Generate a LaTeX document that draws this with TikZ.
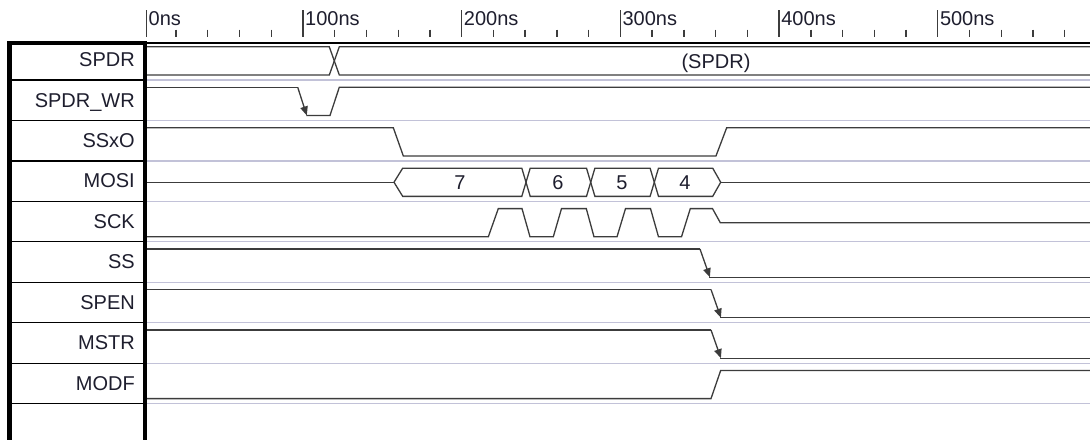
\documentclass[tikz,border=0pt]{standalone}
\usepackage{fontspec}
\setmainfont{Liberation Sans}
\usetikzlibrary{arrows.meta}
\definecolor{wavec}{HTML}{3C3C3C}
\definecolor{sepc}{HTML}{C2C2D8}
\definecolor{txtc}{HTML}{1E1E2E}
\begin{document}
\begin{tikzpicture}[x=1pt,y=-1pt,
  wave/.style={draw=wavec,line width=1.3pt,line join=miter},
  edgearrow/.style={draw=wavec,line width=1.3pt,-{Triangle[length=9pt,width=7.5pt]}},
  sepline/.style={draw=sepc,line width=1.2pt},
  rowline/.style={draw=black,line width=1.2pt},
  frameline/.style={draw=black,line width=4.5pt},
  majortick/.style={draw=wavec,line width=1.3pt},
  minortick/.style={draw=wavec,line width=1.4pt},
  lbl/.style={font=\fontsize{20}{23}\selectfont,text=txtc,inner sep=0pt},
  sig/.style={lbl,anchor=base east},
  tlab/.style={lbl,anchor=base west},
  blab/.style={lbl,anchor=base}]
\useasboundingbox (0,0) rectangle (1090,440);
\fill[white] (0,0) rectangle (1090,440);
% ---- time axis
\foreach \x/\t [count=\i] in {146.5/0ns,303/100ns,461.7/200ns,620.4/300ns,779.1/400ns,937.8/500ns}{
  \draw[majortick] (\x,10) -- (\x,37);
  \node[tlab] (tl\i) at (\x+2,25) {\t};
}
\foreach \k in {0,...,5}{
  \foreach \j in {1,...,4}{
    \draw[minortick] ({144.3+158.7*\k+31.74*\j},29.5) -- ({144.3+158.7*\k+31.74*\j},37);
  }
}
% ---- frame
\draw[black,line width=2.4pt] (147,43) -- (1090,43);
\draw[frameline] (7,43) -- (147,43);
\draw[frameline] (9.5,41) -- (9.5,440);
\draw[frameline] (145,41) -- (145,440);
\foreach \k in {1,...,9}{
  \draw[rowline] (11.5,{80+40.45*(\k-1)}) -- (143,{80+40.45*(\k-1)});
  \draw[sepline] (147.3,{80+40.45*(\k-1)}) -- (1090,{80+40.45*(\k-1)});
}
% ---- signal names
\foreach \n [count=\i from 0] in {SPDR,SPDR\_WR,SSxO,MOSI,SCK,SS,SPEN,MSTR,MODF}{
  \node[sig] (n\i) at (135,{59.8+40.45*\i+6.8}) {\n};
}
% ---- SPDR (row 0)
\def\Hi{46.8}\def\Lo{75}\def\Mi{60.9}
\draw[wave] (147,\Hi) -- (329.3,\Hi) -- (339.3,\Lo) -- (1090,\Lo);
\draw[wave] (147,\Lo) -- (329.3,\Lo) -- (339.3,\Hi) -- (1090,\Hi);
\node[blab] (spdrval) at (716,\Mi+7.2) {(SPDR)};
% ---- SPDR_WR (row 1)
\def\Hi{87.25}\def\Lo{115.45}
\draw[wave] (147,\Hi) -- (297.7,\Hi);
\draw[edgearrow] (297.7,\Hi) -- (306.8,\Lo);
\draw[wave] (306.3,\Lo) -- (330,\Lo) -- (339.3,\Hi) -- (1090,\Hi);
% ---- SSxO (row 2)
\def\Hi{127.7}\def\Lo{155.9}
\draw[wave] (147,\Hi) -- (393.3,\Hi) -- (403.3,\Lo) -- (716,\Lo) -- (726.7,\Hi) -- (1090,\Hi);
% ---- MOSI (row 3)
\def\Hi{168.15}\def\Lo{196.35}\def\Mi{182.25}
\draw[wave] (147,\Mi) -- (394,\Mi);
\draw[wave] (394,\Mi) -- (402.7,\Hi) -- (521.8,\Hi) -- (526,\Mi) -- (521.8,\Lo) -- (402.7,\Lo) -- cycle;
\draw[wave] (526,\Mi) -- (530.2,\Hi) -- (586.5,\Hi) -- (590.7,\Mi) -- (586.5,\Lo) -- (530.2,\Lo) -- cycle;
\draw[wave] (590.7,\Mi) -- (594.9,\Hi) -- (650.1,\Hi) -- (654.3,\Mi) -- (650.1,\Lo) -- (594.9,\Lo) -- cycle;
\draw[wave] (654.3,\Mi) -- (658.5,\Hi) -- (712.7,\Hi) -- (720.7,\Mi) -- (712.7,\Lo) -- (658.5,\Lo) -- cycle;
\draw[wave] (720.7,\Mi) -- (1090,\Mi);
\node[blab] (b7) at (460,\Mi+7.2) {7};
\node[blab] (b6) at (558,\Mi+7.2) {6};
\node[blab] (b5) at (622,\Mi+7.2) {5};
\node[blab] (b4) at (685,\Mi+7.2) {4};
% ---- SCK (row 4)
\def\Hi{208.6}\def\Lo{236.8}\def\Mi{222.7}
\draw[wave] (147,\Lo) -- (488.3,\Lo) -- (498.3,\Hi) -- (522,\Hi) -- (530,\Lo) -- (553.3,\Lo) -- (561.5,\Hi)
  -- (586.3,\Hi) -- (594,\Lo) -- (617,\Lo) -- (625.5,\Hi) -- (650.5,\Hi) -- (658.5,\Lo) -- (681.5,\Lo)
  -- (690.3,\Hi) -- (712.5,\Hi) -- (720.3,\Mi) -- (1090,\Mi);
% ---- SS (row 5)
\def\Hi{249.05}\def\Lo{277.25}
\draw[wave] (147,\Hi) -- (700,\Hi);
\draw[edgearrow] (700,\Hi) -- (709.9,\Lo);
\draw[wave] (709.4,\Lo) -- (1090,\Lo);
% ---- SPEN (row 6)
\def\Hi{289.5}\def\Lo{317.7}
\draw[wave] (147,\Hi) -- (711,\Hi);
\draw[edgearrow] (711,\Hi) -- (720.9,\Lo);
\draw[wave] (720.4,\Lo) -- (1090,\Lo);
% ---- MSTR (row 7)
\def\Hi{329.95}\def\Lo{358.15}
\draw[wave] (147,\Hi) -- (711,\Hi);
\draw[edgearrow] (711,\Hi) -- (720.9,\Lo);
\draw[wave] (720.4,\Lo) -- (1090,\Lo);
% ---- MODF (row 8)
\def\Hi{370.4}\def\Lo{398.6}
\draw[wave] (147,\Lo) -- (711,\Lo) -- (720.7,\Hi) -- (1090,\Hi);
\end{tikzpicture}
\end{document}
